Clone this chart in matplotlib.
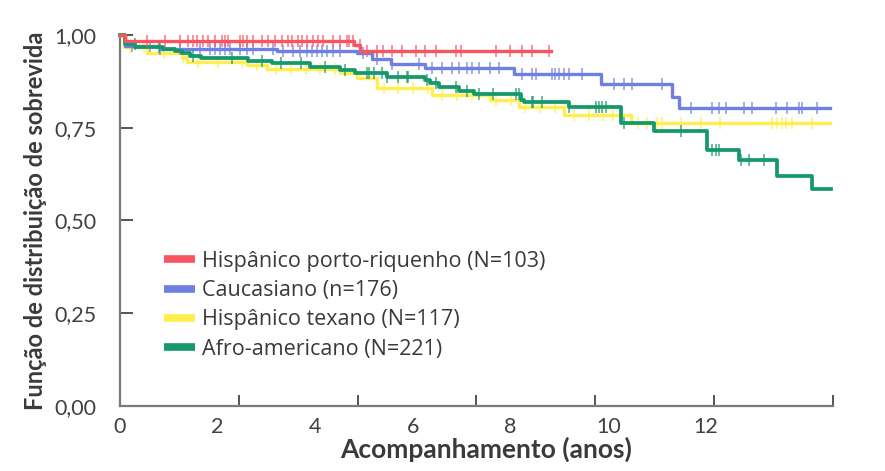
import numpy as np
import matplotlib
matplotlib.use("Agg")
import matplotlib.pyplot as plt
from matplotlib.lines import Line2D

# ---- data ----
labels = ["Hispânico porto-riquenho (N=103)", "Caucasiano (n=176)",
          "Hispânico texano (N=117)", "Afro-americano (N=221)"]
colors = ["#FB5461", "#6E80E3", "#FFEE4D", "#15996A"]

red_t = [0, 0.1, 4.8, 4.92]
red_s = [1.0, 0.984, 0.972, 0.957]
red_end = 8.83
red_cens = [0.55, 0.92, 1.23, 1.39, 1.49, 1.57, 1.70, 1.80, 1.94, 2.09, 2.15, 2.21,
            2.45, 2.52, 2.60, 2.72, 2.90, 3.03, 3.17, 3.31, 3.44, 3.52, 3.64, 3.72,
            3.82, 3.95, 4.05, 4.15, 4.36, 4.50, 4.64, 4.70, 4.77, 4.91, 5.05, 5.26,
            5.38, 5.58, 5.77, 6.07, 6.24, 6.48, 6.89, 6.99, 7.71, 7.98, 8.24, 8.44, 8.79]

blue_t = [0, 0.1, 0.82, 3.21, 4.85, 5.17, 5.56, 6.24, 8.08, 9.86, 11.31, 11.45]
blue_s = [1.0, 0.970, 0.961, 0.957, 0.951, 0.935, 0.922, 0.911, 0.895, 0.868, 0.833, 0.803]
blue_end = 14.55
blue_cens = [0.24, 0.61, 0.82, 1.23, 1.64, 1.84, 1.94, 2.04, 2.15, 2.25, 2.45, 2.60,
             2.72, 3.13, 3.33, 3.54, 3.68, 3.82, 3.93, 4.03, 4.13, 4.23, 4.36, 4.50,
             4.97, 5.26, 5.58, 6.13, 6.40, 6.60, 6.81, 6.95, 7.10, 7.22, 7.36, 7.57,
             7.77, 8.24, 8.44, 8.53, 8.85, 8.90, 9.00, 9.10, 9.20, 9.47, 10.12, 10.33,
             10.49, 11.10, 11.70, 12.13, 12.27, 12.41, 12.78, 12.94, 13.44, 13.66,
             13.91, 13.97, 14.27]

yellow_t = [0, 0.08, 0.55, 1.27, 1.37, 2.60, 3.01, 4.50, 4.85, 5.26, 6.40, 7.57,
            8.18, 9.10, 10.47]
yellow_s = [1.0, 0.968, 0.951, 0.941, 0.927, 0.919, 0.908, 0.897, 0.884, 0.857,
            0.838, 0.825, 0.806, 0.784, 0.763]
yellow_end = 14.55
yellow_cens = [0.2, 0.5, 0.9, 1.3, 1.6, 2.0, 2.5, 2.8, 3.2, 3.5, 3.8, 4.1, 4.4, 5.4,
               5.7, 6.0, 6.3, 6.6, 6.9, 7.2, 7.7, 8.0, 8.3, 8.6, 8.9, 9.3, 9.6, 9.9,
               10.1, 10.6, 10.8, 11.0, 11.1, 11.5, 11.9, 12.3, 13.35, 13.46, 13.56,
               13.64, 13.76, 14.17]

green_t = [0, 0.1, 0.31, 0.88, 1.12, 1.27, 1.43, 1.66, 2.62, 3.11, 3.89, 4.50, 4.81,
           5.46, 6.24, 6.34, 6.54, 6.95, 7.26, 8.22, 8.28, 9.20, 10.27, 10.94, 12.02,
           12.68, 13.46, 14.17]
green_s = [1.0, 0.976, 0.968, 0.962, 0.957, 0.951, 0.943, 0.938, 0.930, 0.925, 0.914,
           0.906, 0.898, 0.887, 0.879, 0.871, 0.860, 0.849, 0.841, 0.825, 0.819, 0.806,
           0.763, 0.741, 0.690, 0.663, 0.620, 0.585]
green_end = 14.56
green_cens = [0.3, 0.8, 1.5, 2.3, 2.9, 3.3, 3.7, 4.2, 4.6, 5.05, 5.11, 5.21, 5.36,
              5.46, 5.69, 5.87, 5.89, 6.28, 6.48, 6.89, 7.10, 7.36, 7.63, 8.12, 8.18,
              8.43, 8.45, 8.65, 9.20, 9.75, 9.82, 9.88, 9.96, 10.33, 11.49, 12.13,
              12.21, 12.27, 12.72, 12.88, 13.19]

xtick_vals = [0, 2, 4, 6, 8, 10, 12]
ytick_vals = [0.0, 0.25, 0.5, 0.75, 1.0]
ytick_labels = ["0,00", "0,25", "0,50", "0,75", "1,00"]
XMAX = 14.6

series = [
    (red_t, red_s, red_end, red_cens),
    (blue_t, blue_s, blue_end, blue_cens),
    (yellow_t, yellow_s, yellow_end, yellow_cens),
    (green_t, green_s, green_end, green_cens),
]

plt.rcParams['font.family'] = ['Lato', 'DejaVu Sans']

fig = plt.figure(figsize=(8.85, 4.71), dpi=100)
ax = fig.add_axes([0.1356, 0.138, 0.941 - 0.1356, 0.9257 - 0.138])

zorders = [5, 3, 2, 4]
lws = [2.4, 2.4, 2.4, 2.7]
for (t, s, end, cens), col, z, lw in zip(series, colors, zorders, lws):
    tt = np.array(list(t) + [end])
    ss = np.array(list(s) + [s[-1]])
    ax.step(tt, ss, where='post', color=col, lw=lw, zorder=z, clip_on=False)
    c = np.array(cens)
    idx = np.searchsorted(np.array(t), c, side='right') - 1
    ax.plot(c, np.array(s)[idx], linestyle='none', marker='|', markersize=9,
            markeredgewidth=1.2, color=col, alpha=0.75, zorder=z, clip_on=False)

ax.set_xlim(0, XMAX)
ax.set_ylim(0, 1.0)

for side in ['top', 'right']:
    ax.spines[side].set_visible(False)
for side in ['left', 'bottom']:
    ax.spines[side].set_color('#7a7a7a')
    ax.spines[side].set_linewidth(1.6)

ax.set_xticks(xtick_vals)
ax.set_xticklabels([str(v) for v in xtick_vals])
ax.tick_params(axis='x', which='major', length=0, pad=8, labelsize=15.5,
               labelcolor='#404040')
ax.set_xticks(np.linspace(0, XMAX, 7)[1:], minor=True)
ax.tick_params(axis='x', which='minor', direction='in', length=8, width=1.4,
               color='#555555')

ax.set_yticks(ytick_vals)
ax.set_yticklabels(ytick_labels)
ax.tick_params(axis='y', which='major', direction='in', length=9, width=1.4,
               color='#555555', pad=17, labelsize=15.5, labelcolor='#404040')

ax.set_xlabel("Acompanhamento (anos)", fontsize=19, fontweight='bold',
              color='#3a3a3a')
ax.xaxis.set_label_coords(0.513, -0.083)
ax.set_ylabel("Função de distribuição de sobrevida", fontsize=17,
              fontweight='bold', color='#3a3a3a', labelpad=5)

handles = [Line2D([0], [0], color=c, lw=5.5, solid_capstyle='butt') for c in colors]
leg = ax.legend(handles, labels, loc='upper left', bbox_to_anchor=(0.034, 0.47),
                frameon=False, handlelength=1.45, handletextpad=0.35,
                labelspacing=0.38, prop={'family': ['Open Sans', 'DejaVu Sans'], 'size': 15.5})
for txt in leg.get_texts():
    txt.set_color('#3a3a3a')

fig.savefig("out.png", dpi=100)
